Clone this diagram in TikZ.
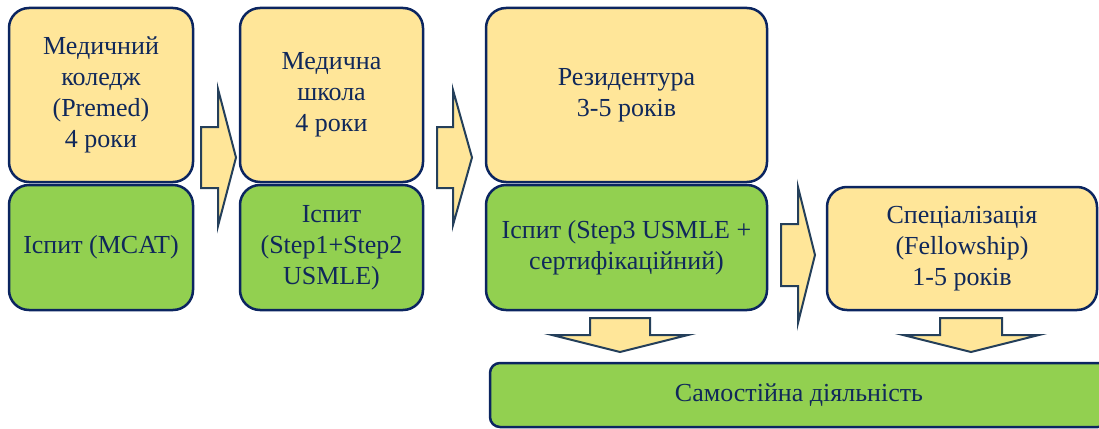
\documentclass[tikz,border=0pt]{standalone}
\usepackage{fontspec}
\setmainfont{Liberation Serif}
\definecolor{boxyellow}{HTML}{FFE699}
\definecolor{boxgreen}{HTML}{92D050}
\definecolor{navy}{HTML}{0B2560}
\definecolor{txt}{HTML}{10285A}
\definecolor{arrowline}{HTML}{243F5A}
\tikzset{
  box/.style={draw=navy, line width=2.5pt, rounded corners=20pt, text=txt, align=center,
    font=\fontsize{26}{31}\selectfont, inner sep=0pt},
  ybox/.style={box, fill=boxyellow},
  gbox/.style={box, fill=boxgreen},
  blockarrow/.style={draw=arrowline, fill=boxyellow, line width=2pt, line join=miter}
}
\begin{document}
\begin{tikzpicture}[x=1pt,y=-1pt]
\useasboundingbox (0,0) rectangle (1099,428);
\clip (0,0) rectangle (1099,428);
% column 1
\node[ybox, minimum width=184pt, minimum height=174pt] (c1) at (101,95) {Медичний\\коледж\\(Premed)\\4 роки};
\node[gbox, minimum width=184pt, minimum height=125pt] (e1) at (101,247.5) {Іспит (MCAT)};
% column 2
\node[ybox, minimum width=183pt, minimum height=174pt] (c2) at (331.5,95) {Медична\\школа\\4 роки};
\node[gbox, minimum width=183pt, minimum height=125pt] (e2) at (331.5,247.5) {Іспит\\(Step1+Step2\\USMLE)};
% column 3
\node[ybox, minimum width=281pt, minimum height=174pt] (c3) at (626.5,95) {Резидентура\\3-5 років};
\node[gbox, minimum width=281pt, minimum height=125pt] (e3) at (626.5,247.5) {Іспит (Step3 USMLE +\\сертифікаційний)};
% fellowship
\node[ybox, minimum width=270pt, minimum height=123pt] (f) at (962,248.5) {Спеціалізація\\(Fellowship)\\1-5 років};
% bottom
\node[gbox, rounded corners=10pt, minimum width=618pt, minimum height=64pt] (s) at (799,395) {Самостійна діяльність};
% right arrows
\draw[blockarrow] (201,127) -- (218,127) -- (218,89) -- (236,157.5) -- (218,226) -- (218,188) -- (201,188) -- cycle;
\draw[blockarrow] (437,127) -- (453,127) -- (453,90) -- (472,157.5) -- (453,225) -- (453,188) -- (437,188) -- cycle;
\draw[blockarrow] (781,224) -- (798,224) -- (798,187) -- (815,255) -- (798,323) -- (798,286) -- (781,286) -- cycle;
% down arrows
\draw[blockarrow] (590,318) -- (650,318) -- (650,335) -- (688,335) -- (620,352) -- (552,335) -- (590,335) -- cycle;
\draw[blockarrow] (940,318) -- (1002,318) -- (1002,335) -- (1039,335) -- (971,352) -- (903,335) -- (940,335) -- cycle;
\end{tikzpicture}
\end{document}
